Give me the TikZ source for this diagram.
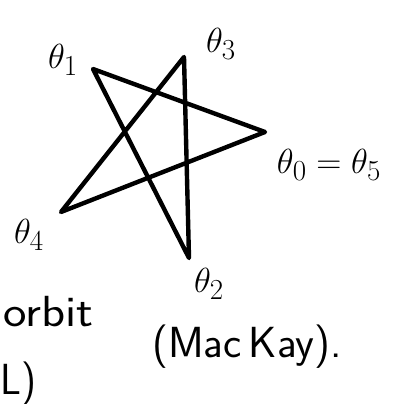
\documentclass[tikz,border=0pt]{standalone}
\usepackage{amsmath,amssymb}
\usepackage{graphicx}
\usepackage{tikz}
\newcommand{\thlab}[1]{\scalebox{1.4}{$#1$}}

\begin{document}
\begin{tikzpicture}[
    x=1pt,y=-1pt,
    edge/.style={line width=4.4pt,line join=round,line cap=round,draw=black},
    lab/.style={inner sep=0pt,font=\Huge},
    note/.style={inner sep=0pt,font=\Huge\sffamily}
  ]
    \useasboundingbox (0,0) rectangle (397,404);
    % star vertices
    \coordinate (t0) at (265,132);
    \coordinate (t1) at (93,69);
    \coordinate (t2) at (189,258);
    \coordinate (t3) at (184,57);
    \coordinate (t4) at (61,212);
    \draw[edge] (t0) -- (t1) -- (t2) -- (t3) -- (t4) -- cycle;
    % labels
    \node[lab] (l1) at (63,60) {\thlab{\theta_1}};
    \node[lab] (l3) at (221,44) {\thlab{\theta_3}};
    \node[lab] (l0) at (329,165) {\thlab{\theta_0=\theta_5}};
    \node[lab] (l4) at (29,235) {\thlab{\theta_4}};
    \node[lab] (l2) at (209,284) {\thlab{\theta_2}};
    \node[note,anchor=base west] (orbit) at (3,326) {\scalebox{2.0}[1.75]{orbit}};
    \node[note,anchor=base west] (mackay) at (152,357) {\scalebox{1.75}[1.75]{(Mac\,Kay).}};
    \node[note,anchor=base west] (tail) at (0,394) {\scalebox{1.65}[1.75]{L)}};
  \end{tikzpicture}
\end{document}
